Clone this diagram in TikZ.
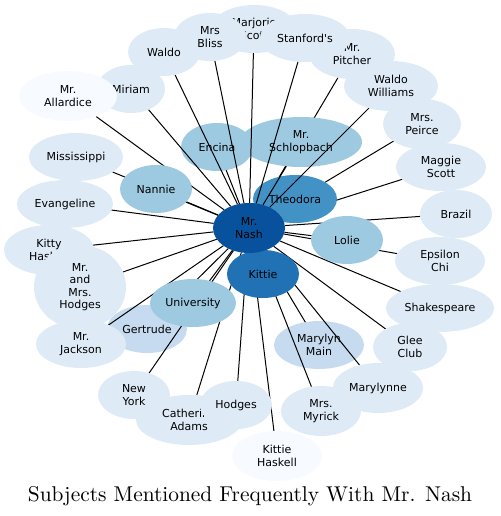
\documentclass[tikz,border=0pt]{standalone}
\usepackage{fontspec}
\newfontfamily\dvs{DejaVu Sans}
\newfontfamily\titlefont{lmroman10-regular}[Extension=.otf]
\usetikzlibrary{shapes.geometric}
\pgfdeclarelayer{edgesA}
\pgfdeclarelayer{innerA}
\pgfdeclarelayer{edgesB}
\pgfsetlayers{edgesA,innerA,edgesB,main}
\definecolor{c0}{HTML}{08519C}
\definecolor{c1}{HTML}{2171B5}
\definecolor{c2}{HTML}{4292C6}
\definecolor{c3}{HTML}{9ECAE1}
\definecolor{c4}{HTML}{C6DBEF}
\definecolor{c5}{HTML}{DEEBF7}
\definecolor{c6}{HTML}{F7FBFF}
\tikzset{
  nd/.style 2 args={ellipse, draw=none, inner sep=0pt, outer sep=0pt,
    minimum width={2*#1}, minimum height={2*#2}},
  lab/.style={align=center, inner sep=0pt, text=black,
    font=\dvs\fontsize{11}{12.5}\selectfont},
  edge/.style={draw=black, line width=1pt}
}
\newcommand\Nd[7]{\node[nd={#4}{#5}, fill=#6, label={[lab]center:{#7}}] (#1) at (#2,#3) {};}
\begin{document}
\begin{tikzpicture}[x=1pt,y=-1pt]
\useasboundingbox (0,0) rectangle (500,516);
% inner nodes lying under the connectors
\begin{pgfonlayer}{innerA}
\Nd{encina}{217}{147}{36}{24}{c3}{Encina}
\Nd{schlop}{301}{142}{61}{25}{c3}{Mr.\\Schlopbach}
\Nd{theodora}{295}{199}{42}{24}{c2}{Theodora}
\Nd{gertrude}{147}{329}{40}{24}{c4}{Gertrude}
\Nd{mmain}{319}{345}{45}{24}{c4}{Marylyn\\Main}
\end{pgfonlayer}
% inner nodes over the connectors
\Nd{nannie}{156}{189}{36}{24}{c3}{Nannie}
\Nd{lolie}{347}{240}{36}{24}{c3}{Lolie}
\Nd{kittie}{263}{274}{36}{24}{c1}{Kittie}
\Nd{univ}{193}{303}{43}{24}{c3}{University}
\Nd{nash}{249}{228}{36}{25}{c0}{Mr.\\Nash}
% outer ring
\Nd{miriam}{131}{89}{34}{24}{c5}{Miriam}
\Nd{allardice}{68}{96}{49}{25}{c6}{Mr.\\Allardice}
\Nd{waldo}{164}{52}{36}{24}{c5}{Waldo}
\Nd{marjorie}{254}{29}{43}{24}{c5}{Marjorie\\Scott}
\Nd{bliss}{210}{37}{36}{24}{c5}{Mrs\\Bliss}
\Nd{pitcher}{352}{54}{43}{25}{c5}{Mr.\\Pitcher}
\Nd{stanford}{305}{38}{45}{24}{c5}{Stanford's}
\Nd{wwilliams}{391}{86}{47}{25}{c5}{Waldo\\Williams}
\Nd{peirce}{422}{124}{39}{25}{c5}{Mrs.\\Peirce}
\Nd{maggie}{441}{167}{45}{24}{c5}{Maggie\\Scott}
\Nd{brazil}{456}{214}{36}{24}{c5}{Brazil}
\Nd{epsilon}{440}{261}{45}{24}{c5}{Epsilon\\Chi}
\Nd{shakes}{440}{308}{54}{24}{c5}{Shakespeare}
\Nd{glee}{410}{347}{37}{24}{c5}{Glee\\Club}
\Nd{marylynne}{378}{388}{45}{25}{c5}{Marylynne}
\Nd{myrick}{321}{411}{40}{25}{c5}{Mrs.\\Myrick}
\Nd{khaskell}{277}{456}{45}{25}{c6}{Kittie\\Haskell}
\Nd{catherine}{189}{420}{53}{25}{c5}{Catherine\\Adams}
\Nd{hodges}{236}{405}{36}{24}{c5}{Hodges}
\Nd{newyork}{134}{395}{36}{24}{c5}{New\\York}
\Nd{jackson}{81}{344}{45}{24}{c5}{Mr.\\Jackson}
\Nd{mississippi}{76}{157}{47}{24}{c5}{Mississippi}
\Nd{evangeline}{65}{204}{48}{24}{c5}{Evangeline}
\Nd{kitty}{49}{250}{45}{25}{c5}{Kitty\\Haskell}
\Nd{mmhodges}{80}{287}{46}{42}{c5}{Mr.\\and\\Mrs.\\Hodges}
% connectors hidden under inner nodes
\begin{pgfonlayer}{edgesA}
\foreach \t in {pitcher,peirce,maggie}
  \draw[edge] (nash) -- (\t);
\end{pgfonlayer}
% connectors over some inner nodes
\begin{pgfonlayer}{edgesB}
\foreach \t in {kittie,theodora,encina,schlop,nannie,lolie,univ,gertrude,mmain,
  allardice,miriam,waldo,bliss,marjorie,stanford,wwilliams,brazil,epsilon,shakes,
  glee,marylynne,myrick,khaskell,hodges,catherine,newyork,jackson,mmhodges,kitty,
  evangeline,mississippi}
  \draw[edge] (nash) -- (\t);
\end{pgfonlayer}
\node[font=\titlefont\fontsize{21.4}{25}\selectfont, anchor=base, inner sep=0pt] (title) at (250,501) {Subjects Mentioned Frequently With Mr. Nash};
\end{tikzpicture}
\end{document}
